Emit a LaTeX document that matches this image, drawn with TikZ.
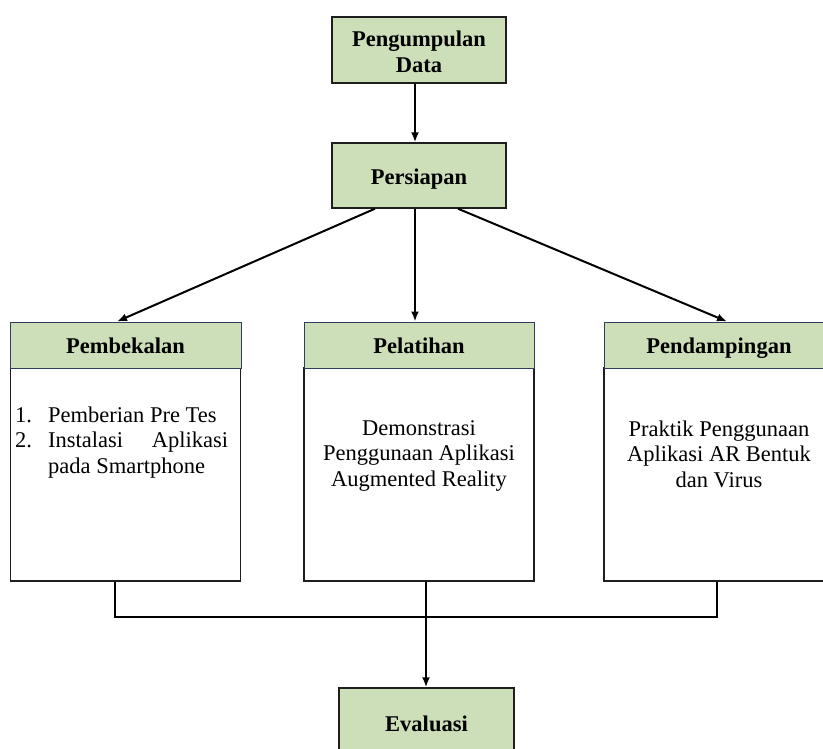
\documentclass[tikz,border=0pt]{standalone}
\usepackage{fontspec}
\setmainfont{Liberation Serif}
\usetikzlibrary{arrows.meta}
\definecolor{boxgreen}{RGB}{205,223,185}
\definecolor{hdrline}{RGB}{47,62,92}
\definecolor{edge}{RGB}{30,30,30}
\begin{document}
\begin{tikzpicture}[x=1pt,y=-1pt,
  topbox/.style={draw=edge, line width=1.4pt, fill=boxgreen, inner sep=0pt, minimum width=174pt, minimum height=66pt},
  hdr/.style={draw=hdrline, line width=1pt, fill=boxgreen, inner sep=0pt, minimum width=230pt, minimum height=46pt},
  bodybox/.style={draw=edge, line width=1.4pt, fill=white, inner sep=0pt, minimum width=230pt, minimum height=213pt},
  btxt/.style={font={\fontsize{22.5}{26}\selectfont\bfseries}, inner sep=0pt, anchor=base},
  ntxt/.style={font={\fontsize{22.5}{25.6}\selectfont}, inner sep=0pt, anchor=base},
  conn/.style={line width=2pt, draw=black},
  arr/.style={conn, -{Latex[length=10pt, width=8pt]}}
]
\clip (0,0) rectangle (823,749);
\fill[white] (0,0) rectangle (823,749);

% top boxes
\node[topbox] (pd) at (419,50) {};
\node[btxt] (pdt) at (419,47) {\begin{tabular}[t]{@{}c@{}}Pengumpulan\\Data\end{tabular}};
\node[topbox, minimum height=65pt] (prep) at (419,175.5) {};
\node[btxt] (prept) at (419,185) {Persiapan};

% column bodies
\node[bodybox] (b1) at (125.5,474.5) {};
\node[bodybox] (b2) at (419,474.5) {};
\node[bodybox] (b3) at (719,474.5) {};

% headers
\node[hdr, minimum width=231pt] (h1) at (125.5,345) {};
\node[hdr] (h2) at (419,345) {};
\node[hdr] (h3) at (719,345) {};
\node[btxt] (h1t) at (125.5,353) {Pembekalan};
\node[btxt] (h2t) at (419,353) {Pelatihan};
\node[btxt] (h3t) at (719,353) {Pendampingan};

% body texts
\node[ntxt, anchor=base west] (b1t) at (15,422)
  {\tolerance 10000\relax\hyphenpenalty 10000\relax\begin{tabular}[t]{@{}p{33pt}@{}p{180pt}@{}}1. & Pemberian Pre Tes\\ 2. & \tolerance 10000\relax\hyphenpenalty 10000\relax Instalasi Aplikasi pada Smartphone\end{tabular}};
\node[ntxt] (b2t) at (419,435)
  {\begin{tabular}[t]{@{}c@{}}Demonstrasi\\Penggunaan Aplikasi\\Augmented Reality\end{tabular}};
\node[ntxt] (b3t) at (719,436)
  {\begin{tabular}[t]{@{}c@{}}Praktik Penggunaan\\Aplikasi AR Bentuk\\dan Virus\end{tabular}};

% bottom box
\node[topbox, minimum width=175pt, minimum height=70pt] (ev) at (426.5,723) {};
\node[btxt] (evt) at (426.5,731) {Evaluasi};

% connectors
\draw[arr] ([xshift=-4pt]pd.south) -- ([xshift=-4pt]prep.north);
\draw[arr] ([xshift=-44pt]prep.south) -- ([xshift=-8.5pt]h1.north);
\draw[arr] ([xshift=-4pt]prep.south) -- ([xshift=-4pt]h2.north);
\draw[arr] ([xshift=39pt]prep.south) -- ([xshift=8pt]h3.north);

\coordinate (jl) at (115,617);
\coordinate (jr) at (717,617);
\draw[conn] ([xshift=-10.5pt]b1.south) -- (jl) -- (jr) -- ([xshift=-2pt]b3.south);
\draw[arr] ([xshift=7pt]b2.south) -- ([xshift=7pt]b2.south |- ev.north);
\end{tikzpicture}
\end{document}
